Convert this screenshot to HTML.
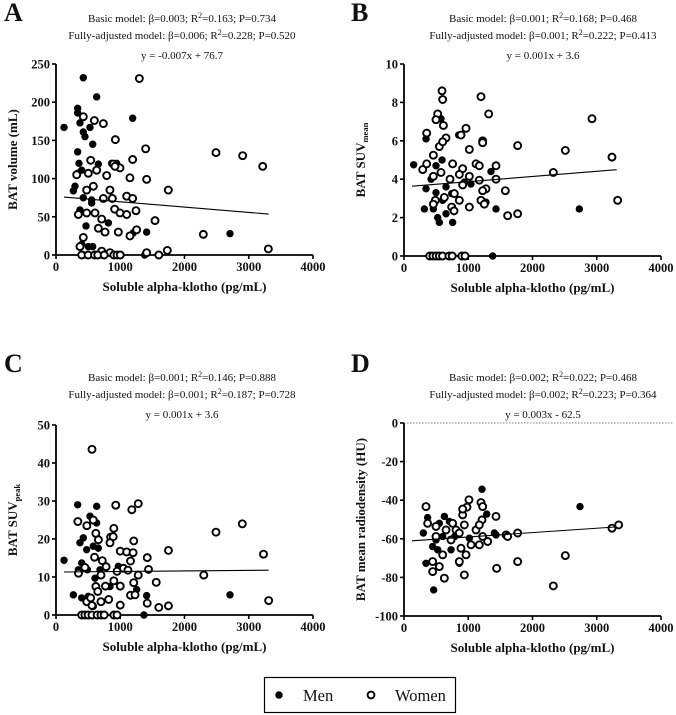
<!DOCTYPE html>
<html><head><meta charset="utf-8"><style>
html,body{margin:0;padding:0;background:#fff}
svg{display:block}
text{font-family:"Liberation Serif",serif;fill:#111}
</style></head><body>
<svg id="fig" width="676" height="715" viewBox="0 0 676 715" xmlns="http://www.w3.org/2000/svg"></svg>
<script>
// ---- data (x = soluble alpha-klotho pg/mL, y = outcome) ----
const aMen=[[425,232],[633,207],[125,167],[337,192],[337,186],[373,173],[425,161],[451,155],[529,167],[571,145],[1193,179],[337,135],[358,120],[400,111],[659,119],[337,107],[296,90],[270,84],[425,75],[555,72],[555,68],[373,59],[467,38],[815,42],[1411,30],[2708,28],[1203,29],[400,14],[503,11],[571,11],[430,0],[500,0],[600,0],[700,0],[1380,0],[866,120],[944,120]];
const aWomen=[[1297,231],[425,181],[597,176],[737,172],[924,151],[1395,139],[1193,125],[540,124],[2490,134],[2905,130],[3217,116],[892,119],[996,114],[322,105],[503,107],[633,111],[789,104],[918,116],[1151,101],[1411,99],[1748,85],[840,85],[477,85],[581,90],[877,74],[737,74],[1100,77],[1193,74],[913,60],[348,53],[477,55],[607,55],[996,55],[1100,53],[1245,58],[1541,45],[711,47],[659,35],[763,30],[970,30],[1151,25],[1255,33],[2293,27],[425,23],[3305,8],[1733,6],[1411,3],[711,5],[840,3],[400,0],[500,0],[600,0],[650,0],[750,0],[900,0],[950,0],[1000,0],[1600,0],[373,11]];
const bMen=[[150,4.75],[343,6.1],[343,3.5],[317,2.45],[421,4.0],[498,4.7],[498,3.3],[457,2.45],[524,2.0],[550,1.75],[602,2.9],[654,2.2],[757,1.75],[592,5.0],[576,7.15],[654,3.6],[851,6.3],[939,3.85],[1042,3.75],[1354,4.4],[1432,2.45],[1276,2.8],[2729,2.45],[742,3.25],[1380,0]];
const bWomen=[[592,8.6],[602,8.15],[524,7.4],[498,7.1],[613,6.8],[353,6.4],[654,6.15],[965,6.65],[887,6.3],[1198,8.3],[1318,7.4],[1224,6.0],[1224,5.9],[1017,5.55],[1769,5.75],[550,5.7],[602,5.95],[457,5.25],[291,4.5],[353,4.8],[757,4.8],[913,4.55],[1121,4.8],[1172,4.7],[1432,4.7],[716,4.0],[861,4.25],[1017,4.15],[1172,3.95],[1432,4.0],[457,4.15],[576,4.35],[628,3.05],[783,3.25],[913,3.7],[1276,3.5],[1224,3.4],[1577,3.4],[861,2.9],[1198,2.9],[1017,2.55],[742,2.55],[779,2.35],[488,2.9],[457,2.7],[1613,2.1],[1769,2.2],[2324,4.35],[2511,5.5],[2926,7.15],[3237,5.15],[3325,2.9],[1250,2.7],[400,0],[450,0],[500,0],[550,0],[600,0],[700,0],[750,0],[900,0],[950,0]];
const cMen=[[125,14.4],[337,29],[633,28.6],[529,26],[270,5.3],[373,19],[400,13.7],[425,20.3],[477,17.2],[581,18.1],[659,17.6],[633,24.2],[348,11.9],[488,11.9],[607,9.7],[685,11.9],[400,4.5],[503,4.9],[581,2.3],[840,7.5],[1255,6.7],[970,12.8],[1411,5.1],[2708,5.3],[1369,0]];
const cWomen=[[560,43.6],[340,24.6],[480,23.5],[580,25],[620,21.5],[660,19.8],[850,20.5],[900,22.8],[890,20.6],[930,28.9],[1180,27.7],[1280,29.3],[1210,19.5],[840,19],[1000,16.8],[1100,16.6],[1200,16.4],[1750,17],[1420,15.1],[1440,12],[600,15.2],[720,14.3],[780,12.7],[950,11.5],[1050,12.3],[1120,11.8],[1160,14.2],[1280,10.5],[350,11],[450,12.5],[700,10.5],[900,9],[620,7.5],[770,7.6],[1000,7.6],[1160,5.2],[1230,5.3],[1210,8.5],[1560,8.6],[2300,10.5],[2490,21.8],[2900,24],[3230,16],[3310,3.8],[1420,3.1],[1600,2],[1750,2.4],[1000,2.6],[480,3.5],[560,2.5],[700,3.5],[650,6.2],[820,4.1],[540,4.5],[400,0],[450,0],[500,0],[560,0],[640,0],[700,0],[750,0],[900,0],[950,0]];
const dMen=[[301,-57],[368,-49],[342,-72.7],[462,-86.5],[446,-64],[524,-65.7],[602,-58.8],[628,-48.4],[550,-52],[706,-51],[789,-58.8],[1017,-59.7],[1214,-34.3],[1287,-47.2],[1406,-57],[1432,-58],[2739,-43.3],[498,-60.6],[732,-65.7],[861,-72.7]];
const dWomen=[[342,-43.3],[368,-52],[446,-71.8],[446,-77],[498,-53.6],[654,-55.4],[602,-68.3],[550,-74.4],[628,-80.4],[757,-52],[809,-55.4],[913,-47.6],[939,-52.8],[861,-57],[887,-64.9],[861,-71.8],[939,-78.7],[965,-68.3],[1011,-39.8],[980,-43.6],[913,-44.6],[1043,-63.1],[1121,-55.4],[1198,-41.2],[1224,-43.3],[1214,-50.2],[1172,-52.8],[1224,-58.8],[1302,-61.4],[1172,-63.1],[1432,-48.4],[1442,-75.3],[1588,-58],[1613,-58.8],[1769,-57],[1769,-71.8],[2324,-84.4],[2511,-68.7],[3237,-54.5],[3341,-52.8],[732,-60.6],[498,-58.8]];
const xTicks=[0,1000,2000,3000,4000];
const aYTicks=[0,50,100,150,200,250];
const bYTicks=[0,2,4,6,8,10];
const cYTicks=[0,10,20,30,40,50];
const dYTicks=[-100,-80,-60,-40,-20,0];
const fitSlopes=[-0.007,0.00027,0.00015,0.00226];
const fitIntercepts=[76.7,3.6,11.3,-61.3];
const fitRange=[125,3310];

const NS='http://www.w3.org/2000/svg';
const svg=document.getElementById('fig');
function mk(tag,attrs,parent,txt){const e=document.createElementNS(NS,tag);for(const k in attrs)e.setAttribute(k,attrs[k]);if(txt!==undefined)e.textContent=txt;(parent||svg).appendChild(e);return e;}

const panels=[
 {id:'a',letter:'A',men:aMen,women:aWomen,ticks:aYTicks,x0:56,x1:313,yb:255,yt:64,ytitle:'BAT volume (mL)',sub:'',lx:4,ly:21,cx:182,t1:22,
  l1:['Basic model: β=0.003; R','2','=0.163; P=0.734'],l2:['Fully-adjusted model: β=0.006; R','2','=0.228; P=0.520'],eq:'y = -0.007x + 76.7'},
 {id:'b',letter:'B',men:bMen,women:bWomen,ticks:bYTicks,x0:404,x1:661,yb:256,yt:64,ytitle:'BAT SUV',sub:'mean',lx:351,ly:21,cx:543,t1:22,
  l1:['Basic model: β=0.001; R','2','=0.168; P=0.468'],l2:['Fully-adjusted model: β=0.001; R','2','=0.222; P=0.413'],eq:'y = 0.001x + 3.6'},
 {id:'c',letter:'C',men:cMen,women:cWomen,ticks:cYTicks,x0:56,x1:313,yb:615,yt:425,ytitle:'BAT SUV',sub:'peak',lx:4,ly:372,cx:182,t1:381,
  l1:['Basic model: β=0.001; R','2','=0.146; P=0.888'],l2:['Fully-adjusted model: β=0.001; R','2','=0.187; P=0.728'],eq:'y = 0.001x + 3.6'},
 {id:'d',letter:'D',men:dMen,women:dWomen,ticks:dYTicks,x0:404,x1:661,yb:616,yt:423,ytitle:'BAT mean radiodensity (HU)',sub:'',lx:351,ly:372,cx:543,t1:381,
  l1:['Basic model: β=0.002; R','2','=0.022; P=0.468'],l2:['Fully-adjusted model: β=0.002; R','2','=0.223; P=0.364'],eq:'y = 0.003x - 62.5',zero:true}
];

panels.forEach((p,pi)=>{
  const g=mk('g',{});
  
  
  const ymin=p.ticks[0],ymax=p.ticks[p.ticks.length-1];
  const sx=v=>p.x0+(v-xTicks[0])/(xTicks[xTicks.length-1]-xTicks[0])*(p.x1-p.x0);
  const sy=v=>p.yb-(v-ymin)/(ymax-ymin)*(p.yb-p.yt);
  const L=mk('text',{x:p.lx,y:p.ly,'font-size':26,'font-weight':'bold'},g,p.letter);
  
  
  [[p.l1,p.t1],[p.l2,p.t1+17]].forEach((ln,i)=>{
    const t=mk('text',{x:p.cx,y:ln[1],'font-size':11,'text-anchor':'middle'},g);
    
    
    mk('tspan',{},t,ln[0][0]);mk('tspan',{dy:-4,'font-size':8},t,ln[0][1]);mk('tspan',{dy:4},t,ln[0][2]);
  });
  const eq=mk('text',{x:p.cx,y:p.t1+37,'font-size':11,'text-anchor':'middle'},g,p.eq);
  
  
  if(p.zero){const z=mk('line',{x1:p.x0,x2:p.x1+12,y1:sy(0),y2:sy(0),stroke:'#555','stroke-width':0.8,'stroke-dasharray':'1.5,1.5'},g);
    }
  const ax=mk('path',{d:`M${p.x0},${p.yt} V${p.yb} H${p.x1}`,fill:'none',stroke:'#000','stroke-width':1.8},g);
  
  xTicks.forEach(v=>{mk('line',{x1:sx(v),x2:sx(v),y1:p.yb,y2:p.yb+4,stroke:'#000','stroke-width':1.6},g);
    const t=mk('text',{x:sx(v),y:p.yb+16,'font-size':12.5,'font-weight':'bold','text-anchor':'middle'},g,String(v));
    });
  p.ticks.forEach(v=>{mk('line',{x1:p.x0-4,x2:p.x0,y1:sy(v),y2:sy(v),stroke:'#000','stroke-width':1.6},g);
    const t=mk('text',{x:p.x0-6,y:sy(v)+4.5,'font-size':12.5,'font-weight':'bold','text-anchor':'end'},g,String(v));
    });
  const xt=mk('text',{x:(p.x0+p.x1)/2,y:p.yb+36,'font-size':13,'font-weight':'bold','text-anchor':'middle'},g,'Soluble alpha-klotho (pg/mL)');
  
  const ycx=p.x0-39,ycy=(p.yt+p.yb)/2;
  const yt=mk('text',{x:ycx,y:ycy,'font-size':13,'font-weight':'bold','text-anchor':'middle',transform:`rotate(-90 ${ycx} ${ycy})`},g);
  
  mk('tspan',{},yt,p.ytitle);
  if(p.sub){mk('tspan',{dy:3,'font-size':8.5},yt,p.sub);}
  p.men.forEach(d=>{const c=mk('circle',{cx:sx(d[0]),cy:sy(d[1]),r:3.7,fill:'#000'},g);
    });
  p.women.forEach(d=>{const c=mk('circle',{cx:sx(d[0]),cy:sy(d[1]),r:3.5,fill:'#fff',stroke:'#000','stroke-width':1.9},g);
    });
  const f=x=>fitIntercepts[pi]+fitSlopes[pi]*x;
  const fl=mk('line',{x1:sx(fitRange[0]),x2:sx(fitRange[1]),y1:sy(f(fitRange[0])),y2:sy(f(fitRange[1])),stroke:'#000','stroke-width':1.1},g);
  
});
const lg=mk('g',{});


mk('rect',{x:264.5,y:677.5,width:191,height:35,fill:'#fff',stroke:'#000','stroke-width':1.2},lg);
const m=mk('g',{},lg);
mk('circle',{cx:279,cy:695,r:3.7,fill:'#000'},m);
mk('text',{x:303,y:701,'font-size':16.5},m,'Men');
const w=mk('g',{},lg);
mk('circle',{cx:371,cy:695,r:3.4,fill:'#fff',stroke:'#000','stroke-width':1.9},w);
mk('text',{x:395,y:701,'font-size':16.5},w,'Women');
</script>
</body></html>
